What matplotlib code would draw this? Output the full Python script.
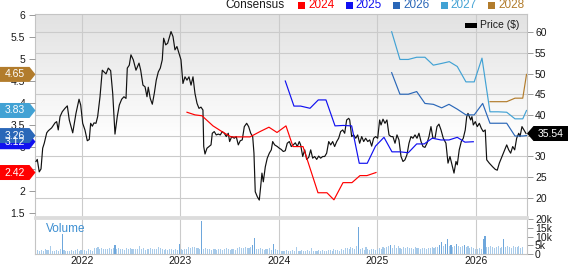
import numpy as np
import matplotlib
matplotlib.use("Agg")
import matplotlib.pyplot as plt
from matplotlib.patches import Polygon, Rectangle
from matplotlib.transforms import IdentityTransform

plt.rcParams['font.family'] = ['Liberation Sans', 'DejaVu Sans']

# ---------------- data ----------------
price_t = [2021.533, 2021.546, 2021.566, 2021.584, 2021.601, 2021.617, 2021.642, 2021.658, 2021.692, 2021.726,
           2021.743, 2021.759, 2021.777, 2021.800, 2021.827, 2021.851, 2021.871, 2021.906, 2021.939, 2021.970,
           2021.987, 2022.007, 2022.030, 2022.054, 2022.074, 2022.088, 2022.105, 2022.122, 2022.142, 2022.159,
           2022.183, 2022.206, 2022.223, 2022.244, 2022.267, 2022.291, 2022.312, 2022.335, 2022.358, 2022.379,
           2022.403, 2022.426, 2022.447, 2022.460, 2022.480, 2022.497, 2022.521, 2022.548, 2022.579, 2022.596,
           2022.619, 2022.640, 2022.660, 2022.673, 2022.693, 2022.714, 2022.734, 2022.754, 2022.775, 2022.795,
           2022.815, 2022.829, 2022.850, 2022.870, 2022.890, 2022.904, 2022.924, 2022.944, 2022.964, 2022.985,
           2023.005, 2023.025, 2023.046, 2023.066, 2023.086, 2023.107, 2023.127, 2023.147, 2023.168, 2023.188,
           2023.208, 2023.228, 2023.236, 2023.249, 2023.269, 2023.289, 2023.310, 2023.323, 2023.343, 2023.363,
           2023.384, 2023.404, 2023.424, 2023.445, 2023.465, 2023.485, 2023.499, 2023.520, 2023.546, 2023.566,
           2023.587, 2023.607, 2023.627, 2023.648, 2023.672, 2023.692, 2023.713, 2023.733, 2023.746, 2023.759,
           2023.780, 2023.800, 2023.814, 2023.827, 2023.841, 2023.861, 2023.881, 2023.902, 2023.922, 2023.936,
           2023.956, 2023.983, 2024.003, 2024.023, 2024.044, 2024.064, 2024.084, 2024.105, 2024.125, 2024.145,
           2024.166, 2024.186, 2024.206, 2024.220, 2024.241, 2024.261, 2024.281, 2024.302, 2024.322, 2024.342,
           2024.362, 2024.383, 2024.403, 2024.423, 2024.444, 2024.464, 2024.484, 2024.505, 2024.525, 2024.545,
           2024.565, 2024.586, 2024.606, 2024.626, 2024.647, 2024.667, 2024.687, 2024.708, 2024.718, 2024.738,
           2024.758, 2024.779, 2024.799, 2024.819, 2024.840, 2024.860, 2024.880, 2024.901, 2024.921, 2024.941,
           2024.961, 2024.982, 2025.002, 2025.022, 2025.036, 2025.056, 2025.076, 2025.096, 2025.117, 2025.137,
           2025.157, 2025.178, 2025.198, 2025.218, 2025.239, 2025.259, 2025.279, 2025.299, 2025.320, 2025.340,
           2025.360, 2025.381, 2025.401, 2025.421, 2025.442, 2025.462, 2025.482, 2025.503, 2025.523, 2025.543,
           2025.563, 2025.584, 2025.604, 2025.624, 2025.645, 2025.668, 2025.695, 2025.716, 2025.736, 2025.756,
           2025.777, 2025.797, 2025.810, 2025.830, 2025.851, 2025.871, 2025.891, 2025.906, 2025.919, 2025.932,
           2025.946, 2025.959, 2025.973, 2025.993, 2026.013, 2026.034, 2026.054, 2026.074, 2026.094, 2026.109,
           2026.135, 2026.170, 2026.196, 2026.216, 2026.237, 2026.264, 2026.291, 2026.312, 2026.332, 2026.352,
           2026.373, 2026.393, 2026.413, 2026.434, 2026.447, 2026.467, 2026.487, 2026.508]
price_v = [28.8, 29.3, 26.3, 27.0, 32.0, 33.2, 35.7, 36.2, 36.9, 38.1,
           38.4, 36.4, 39.6, 40.8, 41.6, 42.2, 38.8, 35.7, 40.4, 43.8,
           42.4, 38.0, 36.4, 33.8, 34.1, 38.0, 37.3, 38.1, 38.0, 39.6,
           44.4, 50.8, 50.4, 49.9, 51.3, 50.7, 45.2, 35.4, 39.6, 42.4,
           43.8, 44.4, 44.0, 51.3, 52.0, 54.5, 53.3, 50.8, 52.5, 50.8,
           47.2, 46.8, 44.4, 46.7, 44.0, 42.6, 45.2, 48.4, 50.4, 51.3,
           53.3, 58.5, 56.9, 57.3, 58.9, 60.1, 58.9, 55.7, 56.5, 54.9,
           53.3, 47.6, 49.2, 48.4, 49.2, 47.2, 49.2, 45.2, 42.8, 41.6,
           41.9, 41.2, 32.4, 30.6, 32.0, 32.4, 32.8, 35.6, 36.0, 35.2,
           35.4, 35.2, 36.0, 35.6, 34.8, 35.6, 33.6, 34.8, 34.4, 34.8,
           32.8, 33.8, 34.0, 37.2, 38.0, 37.2, 35.6, 34.8, 30.8, 21.5,
           20.3, 19.5, 22.7, 26.0, 23.9, 27.5, 29.6, 30.8, 31.6, 33.6,
           32.8, 32.4, 32.0, 31.7, 31.2, 31.4, 33.2, 33.6, 32.4, 32.8,
           33.3, 32.4, 33.6, 32.8, 30.0, 31.6, 29.3, 29.8, 31.6, 29.6,
           30.0, 29.3, 30.1, 29.6, 30.0, 30.0, 30.8, 33.6, 32.8, 33.6,
           32.4, 33.6, 34.4, 36.0, 36.4, 35.6, 38.8, 39.2, 38.8, 34.8,
           35.2, 34.4, 35.2, 33.2, 34.8, 33.6, 34.4, 33.6, 34.0, 32.5,
           34.4, 34.8, 34.4, 38.8, 37.6, 39.0, 38.0, 38.8, 35.2, 34.8,
           34.8, 33.2, 35.2, 34.0, 30.0, 28.8, 29.2, 30.4, 33.2, 34.8,
           34.4, 35.2, 34.4, 35.6, 33.6, 32.4, 32.2, 33.2, 34.8, 37.2,
           34.4, 34.4, 37.2, 37.8, 36.4, 34.4, 33.2, 28.4, 30.0, 28.0,
           26.0, 28.8, 28.0, 31.6, 33.6, 34.4, 36.4, 39.6, 40.4, 39.6,
           38.8, 39.6, 37.6, 38.4, 37.2, 38.0, 36.8, 36.0, 36.4, 29.2,
           28.4, 27.5, 26.9, 26.7, 28.4, 30.0, 31.6, 32.8, 31.6, 30.8,
           32.4, 31.6, 34.4, 35.6, 34.8, 37.2, 36.4, 35.54]

eps2024_t = [2023.066, 2023.147, 2023.218, 2023.330, 2023.421, 2023.513, 2023.706, 2023.807, 2023.898, 2023.980,
             2024.071, 2024.142, 2024.244, 2024.396, 2024.487, 2024.558, 2024.650, 2024.741, 2024.822, 2024.893, 2024.985]
eps2024_v = [3.79, 3.73, 3.71, 3.48, 3.35, 3.23, 3.23, 3.35, 3.45, 3.33,
             3.48, 3.01, 3.01, 1.96, 1.96, 1.80, 2.19, 2.19, 2.35, 2.35, 2.42]

eps2025_t = [2024.064, 2024.152, 2024.220, 2024.315, 2024.399, 2024.477, 2024.569, 2024.653, 2024.738, 2024.815,
             2024.896, 2024.980, 2025.066, 2025.147, 2025.228, 2025.313, 2025.398, 2025.475, 2025.556, 2025.645,
             2025.726, 2025.810, 2025.888, 2025.973]
eps2025_v = [4.50, 3.93, 3.93, 3.88, 4.07, 4.07, 3.48, 3.49, 3.48, 2.63,
             2.63, 3.02, 3.22, 2.89, 2.89, 2.87, 3.07, 3.07, 3.20, 3.16,
             3.16, 3.22, 3.11, 3.12]

eps2026_t = [2025.144, 2025.228, 2025.313, 2025.398, 2025.482, 2025.567, 2025.652, 2025.726, 2025.810, 2025.898,
             2025.982, 2026.068, 2026.142, 2026.226, 2026.312, 2026.396, 2026.475, 2026.513]
eps2026_v = [4.69, 4.20, 4.20, 4.26, 3.99, 3.97, 3.89, 3.97, 3.86, 3.73,
             3.73, 3.99, 3.54, 3.54, 3.54, 3.25, 3.25, 3.26]

eps2027_t = [2025.144, 2025.228, 2025.313, 2025.398, 2025.482, 2025.567, 2025.652, 2025.729, 2025.810, 2025.898,
             2025.982, 2026.061, 2026.142, 2026.226, 2026.312, 2026.396, 2026.475, 2026.513]
eps2027_v = [5.62, 4.99, 4.99, 5.04, 5.04, 4.86, 4.90, 4.94, 4.83, 4.48,
             4.48, 5.02, 3.80, 3.80, 3.79, 3.64, 3.64, 3.83]

eps2028_t = [2026.142, 2026.226, 2026.312, 2026.396, 2026.475, 2026.513]
eps2028_v = [4.03, 4.03, 4.03, 4.11, 4.11, 4.65]

vol_start = 2021.53   # first weekly bar
vol_k = [1.8, 2.2, 1.6, 2.4, 1.9, 2.8, 2.1, 2.5, 4.6, 2.0, 1.7, 2.3, 2.0, 2.6, 11.4, 2.2, 1.8, 2.0, 1.6, 2.4, 1.9, 2.2, 2.7, 1.8, 2.1, 2.5,
         2.3, 1.9, 2.8, 2.2, 2.0, 3.6, 3.2, 3.8, 2.9, 3.4, 3.0, 2.6, 3.1, 3.3, 2.8, 3.5, 5.3, 2.9, 3.3, 2.7, 3.0, 2.5, 3.2, 2.8, 3.6, 3.0,
         2.6, 3.1, 2.9, 4.8, 2.7, 3.3, 2.5, 3.0, 2.8, 3.4, 2.6, 3.1, 2.9, 4.2, 3.5, 2.7, 2.4, 3.0, 2.2, 2.6, 3.0, 2.4, 2.8, 2.3, 5.7, 2.9,
         2.5, 3.0, 2.7, 3.8, 3.5, 3.9, 4.1, 3.6, 3.2, 3.0, 19.0, 2.8, 3.3, 2.6, 2.9, 2.4, 3.1, 2.7, 2.5, 3.0, 2.8, 2.4, 2.6, 3.2, 2.9, 2.5,
         2.7, 3.1, 2.5, 3.4, 3.8, 3.6, 3.2, 4.0, 3.7, 3.4, 3.9, 5.3, 8.9, 3.0, 2.8, 3.6, 2.6, 2.4, 3.0, 2.7, 3.2, 2.5, 5.5, 2.8, 2.3, 2.1,
         2.0, 1.7, 1.9, 2.2, 1.6, 1.8, 2.4, 2.0, 3.8, 1.9, 1.7, 2.1, 1.8, 1.6, 2.3, 1.9, 3.6, 2.0, 1.8, 1.7, 2.2, 1.9, 2.4, 2.0, 1.8, 2.5,
         2.2, 1.9, 2.6, 2.1, 2.4, 2.0, 2.8, 2.3, 3.2, 3.6, 2.9, 3.8, 3.4, 3.0, 4.8, 15.2, 2.7, 3.3, 2.5, 4.2, 2.8, 2.4, 3.0, 2.6, 2.2, 2.9,
         3.2, 2.8, 4.0, 3.5, 3.8, 4.6, 5.4, 3.6, 4.9, 3.3, 4.5, 3.7, 3.1, 4.0, 3.4, 3.8, 3.2, 3.6, 3.0, 3.9, 3.3, 3.5, 3.1, 3.7, 3.4, 3.0,
         3.6, 3.2, 3.9, 3.4, 3.8, 4.2, 5.0, 6.6, 4.8, 5.6, 8.6, 4.4, 5.2, 4.0, 4.7, 5.8, 4.3, 3.9, 4.6, 5.1, 3.8, 4.4, 3.6, 4.0, 3.4, 3.0,
         2.8, 3.4, 3.0, 8.6, 10.5, 4.2, 3.8, 4.6, 4.0, 3.6, 3.9, 4.4, 3.5, 4.2, 8.6, 3.8, 4.6, 4.0, 3.7, 4.8, 4.2, 3.9, 4.5, 3.6, 4.1]

years = [2022, 2023, 2024, 2025, 2026]
year_labels = ['2022', '2023', '2024', '2025', '2026']
price_ticks = [20, 25, 30, 35, 40, 45, 50, 55, 60]
eps_ticks = [1.5, 2, 2.5, 3, 3.5, 4, 4.5, 5, 5.5, 6]
eps_tick_labels = ['1.5', '2', '2.5', '3', '3.5', '4', '4.5', '5', '5.5', '6']
vol_ticks = [0, 5, 10, 15, 20]
vol_tick_labels = ['0', '5k', '10k', '15k', '20k']
last_price = 35.54
last_eps = {'2024': 2.42, '2025': 3.12, '2026': 3.26, '2027': 3.83, '2028': 4.65}

colors = {'2024': '#ff0000', '2025': '#1010f0', '2026': '#2a67b8', '2027': '#42a2d4', '2028': '#b27c2c'}

# ---------------- figure ----------------
W, H = 568, 264
fig = plt.figure(figsize=(W / 100, H / 100), dpi=100)
fig.patch.set_facecolor('white')

grid_c = '#cbcbcb'
spine_c = '#c4c4c4'
txt_c = '#1a1a1a'
XL = (2021.523, 2026.518)

ax = fig.add_axes([35 / W, 1 - 217 / H, 492 / W, 203 / H])
axl = ax.twinx()

# gradient background
n = 200
tt = np.linspace(0, 1, n)
g = 0.885 + (1 - 0.885) * np.clip(tt / 0.62, 0, 1)
grad = np.repeat(g[:, None, None], 3, axis=2)
ax.imshow(grad, extent=(0, 1, 0, 1), transform=ax.transAxes, aspect='auto', zorder=-5, interpolation='bilinear')

ax.set_xlim(*XL)
ax.set_ylim(15.42, 64.34)
axl.set_ylim(1.409, 6.023)
axl.set_xlim(*XL)

ax.set_axisbelow(True)
ax.set_yticks(price_ticks)
ax.set_yticklabels([str(v) for v in price_ticks])
ax.set_xticks(years)
ax.grid(True, color=grid_c, lw=0.8)
ax.yaxis.tick_right()
ax.tick_params(axis='y', right=True, left=False, labelright=True, labelleft=False,
               length=4.3, width=0.7, color='#9a9a9a', pad=1.5, labelsize=7.5, labelcolor=txt_c)
ax.tick_params(axis='x', length=0, labelbottom=False)
for s in ax.spines.values():
    s.set_color(spine_c)
    s.set_linewidth(0.8)
ax.spines['bottom'].set_color('#dcdcdc')
ax.spines['bottom'].set_linewidth(2.0)

axl.yaxis.tick_left()
axl.set_yticks(eps_ticks)
axl.set_yticklabels(eps_tick_labels)
axl.tick_params(axis='y', left=True, right=False, labelleft=True, labelright=False,
                length=4.3, width=0.7, color='#9a9a9a', pad=2.8, labelsize=7.5, labelcolor=txt_c)
for s in axl.spines.values():
    s.set_visible(False)

ax.plot(price_t, price_v, color='#111111', lw=0.85, zorder=3)
axl.plot(eps2024_t, eps2024_v, color=colors['2024'], lw=0.85)
axl.plot(eps2025_t, eps2025_v, color=colors['2025'], lw=0.85)
axl.plot(eps2026_t, eps2026_v, color=colors['2026'], lw=0.85)
axl.plot(eps2027_t, eps2027_v, color=colors['2027'], lw=0.85)
axl.plot(eps2028_t, eps2028_v, color=colors['2028'], lw=0.85)

# ---------------- volume panel ----------------
axv = fig.add_axes([35 / W, 1 - 254 / H, 492 / W, 36 / H])
vol_t = [vol_start + i * 7 / 365.25 for i in range(len(vol_k))]
bar_cols = ['#6ea7dc' if v >= 5 else '#a8cbea' for v in vol_k]
axv.bar(vol_t, vol_k, width=0.011, color=bar_cols, linewidth=0, zorder=2)
axv.set_xlim(*XL)
axv.set_ylim(0, 20.6)
axv.set_axisbelow(True)
axv.set_xticks(years)
axv.set_xticklabels(year_labels)
axv.grid(True, axis='x', color=grid_c, lw=0.8)
axv.yaxis.tick_right()
axv.set_yticks(vol_ticks)
axv.set_yticklabels(vol_tick_labels)
axv.tick_params(axis='y', right=True, left=False, length=4.3, width=0.7, color='#9a9a9a',
                pad=1.5, labelsize=7.5, labelcolor=txt_c)
axv.tick_params(axis='x', length=0, pad=1.2, labelsize=7.5, labelcolor=txt_c)
for s in axv.spines.values():
    s.set_color(spine_c)
    s.set_linewidth(0.8)
axv.spines['top'].set_color('#dcdcdc')
axv.spines['top'].set_linewidth(2.0)
fig.text(45.5 / W, 1 - 229.5 / H, 'Volume', color='#3d8fd2', fontsize=8.5, va='center', ha='left')

# ---------------- tags ----------------
idt = IdentityTransform()


def left_tag(value, color):
    yd = axl.transData.transform((2022, value))[1]
    h = 7.5
    poly = Polygon([[0, yd - h], [29.5, yd - h], [35.5, yd], [29.5, yd + h], [0, yd + h]],
                   closed=True, transform=idt, facecolor=color, edgecolor='none', zorder=20)
    fig.add_artist(poly)
    fig.text(15 / W, yd / H, f'{value:.2f}', color='white', fontsize=7.5, ha='center', va='center', zorder=21)


for key in ['2028', '2027', '2025', '2026', '2024']:
    left_tag(last_eps[key], colors[key])

yd = ax.transData.transform((2026, last_price))[1]
h = 7.5
fig.add_artist(Polygon([[527, yd], [533.5, yd + h], [568, yd + h], [568, yd - h], [533.5, yd - h]],
                       closed=True, transform=idt, facecolor='#000000', edgecolor='none', zorder=20))
fig.text(551 / W, yd / H, f'{last_price:.2f}', color='white', fontsize=7.5, ha='center', va='center', zorder=21)

# ---------------- legends ----------------
fig.text(225 / W, 1 - 5.5 / H, 'Consensus', color=txt_c, fontsize=8.5, ha='left', va='center')
x0 = 298
for key in ['2024', '2025', '2026', '2027', '2028']:
    fig.add_artist(Rectangle((x0, H - 9), 7, 7, transform=idt, facecolor=colors[key], edgecolor='none'))
    fig.text((x0 + 10) / W, 1 - 5.5 / H, key, color=colors[key], fontsize=8.5, ha='left', va='center')
    x0 += 47.5

fig.add_artist(Rectangle((465, H - 28), 12, 5, transform=idt, facecolor='black', edgecolor='none', zorder=10))
fig.text(480 / W, 1 - 25.5 / H, 'Price ($)', color=txt_c, fontsize=7.5, ha='left', va='center')

fig.savefig('out.png', dpi=100, facecolor='white')
